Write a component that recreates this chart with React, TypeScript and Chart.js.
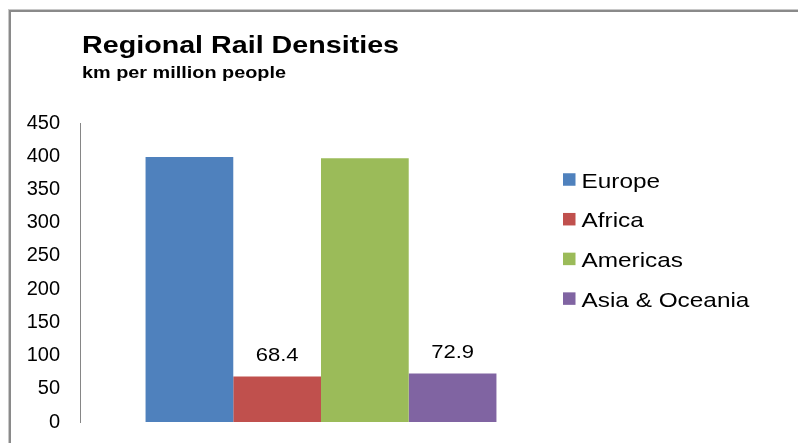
import { useEffect, useRef } from "react";
import { Chart, registerables } from "chart.js";

Chart.register(...registerables);

// ---- data ----
const categories = [""];
const seriesNames = ["Europe", "Africa", "Americas", "Asia & Oceania"];
const seriesValues = [399, 68.4, 397, 72.9];
const seriesColors = ["#4F81BD", "#C0504D", "#9BBB59", "#8064A2"];
const showValueLabel = [false, true, false, true];
const yMin = 0;
const yMax = 450;
const yStep = 50;
const titleText = "Regional Rail Densities";
const subtitleText = "km per million people";

const FONT = "'Liberation Sans', Arial, Helvetica, sans-serif";

function drawText(
  ctx: CanvasRenderingContext2D,
  text: string,
  x: number,
  y: number,
  font: string,
  sx: number,
  align: CanvasTextAlign = "left"
) {
  ctx.save();
  ctx.font = font;
  ctx.fillStyle = "#000000";
  ctx.textAlign = align;
  ctx.textBaseline = "alphabetic";
  ctx.translate(x, y);
  ctx.scale(sx, 1);
  ctx.fillText(text, 0, 0);
  ctx.restore();
}

const decorPlugin = {
  id: "decor",
  beforeDraw(chart: any) {
    const ctx: CanvasRenderingContext2D = chart.ctx;
    const w = chart.width;
    const h = chart.height;
    ctx.save();
    ctx.fillStyle = "#ffffff";
    ctx.fillRect(0, 0, w, h);
    // outer frame (top + left edges visible)
    ctx.fillStyle = "#c8c8c8";
    ctx.fillRect(8, 9, w - 8, 1);
    ctx.fillRect(8, 9, 1, h - 9);
    ctx.fillStyle = "#8a8a8a";
    ctx.fillRect(9, 10, w - 9, 2);
    ctx.fillRect(9, 10, 2, h - 10);
    ctx.restore();
  },
  afterDraw(chart: any) {
    const ctx: CanvasRenderingContext2D = chart.ctx;
    // title + subtitle
    drawText(ctx, titleText, 82, 53, `bold 23.5px ${FONT}`, 1.22);
    drawText(ctx, subtitleText, 82, 78, `bold 16px ${FONT}`, 1.24);

    // legend
    const area = chart.chartArea;
    const boxX = area.right + 1;
    chart.data.datasets.forEach((ds: any, i: number) => {
      const cy = 179.5 + i * 39.7;
      ctx.save();
      ctx.fillStyle = ds.backgroundColor;
      ctx.fillRect(boxX, cy - 6.25, 12.5, 12.5);
      ctx.restore();
      drawText(ctx, ds.label, boxX + 18.5, cy + 8, `21px ${FONT}`, 1.16);
    });

    // value labels
    chart.data.datasets.forEach((ds: any, i: number) => {
      if (!showValueLabel[i]) return;
      const meta = chart.getDatasetMeta(i);
      const el = meta.data[0];
      if (!el) return;
      drawText(ctx, String(ds.data[0]), el.x, el.y - 16, `18.5px ${FONT}`, 1.19, "center");
    });

    // keep the right edge clean
    ctx.save();
    ctx.fillStyle = "#ffffff";
    ctx.fillRect(chart.width - 3, 12, 3, chart.height - 12);
    ctx.restore();
  },
};

export default function App() {
  const canvasRef = useRef<HTMLCanvasElement | null>(null);

  useEffect(() => {
    document.documentElement.style.overflow = "hidden";
    document.body.style.margin = "0";
    document.body.style.overflow = "hidden";
    const canvas = canvasRef.current;
    if (!canvas) return;
    const chart = new Chart(canvas, {
      type: "bar",
      data: {
        labels: categories,
        datasets: seriesNames.map((name, i) => ({
          label: name,
          data: [seriesValues[i]],
          backgroundColor: seriesColors[i],
          borderWidth: 0,
          categoryPercentage: 0.728,
          barPercentage: 1,
        })),
      },
      options: {
        responsive: false,
        animation: false,
        layout: { padding: { left: 8, top: 123, right: 236, bottom: 21 } },
        plugins: {
          legend: { display: false },
          title: { display: false },
          tooltip: { enabled: false },
        },
        scales: {
          x: { display: false },
          y: {
            min: yMin,
            max: yMax,
            ticks: {
              stepSize: yStep,
              padding: 0,
              color: "#000000",
              font: { family: FONT, size: 20 },
            },
            grid: { display: false, drawTicks: true, tickLength: 20 },
            border: { display: true, color: "#868686", width: 1 },
            afterFit: (scale: any) => {
              scale.width = 72;
            },
          },
        },
      },
      plugins: [decorPlugin],
    });
    return () => chart.destroy();
  }, []);

  return (
    <div style={{ position: "fixed", left: 0, top: 0, width: 798, height: 443, overflow: "hidden", background: "#ffffff" }}>
      <canvas ref={canvasRef} width={798} height={443} style={{ display: "block", width: 798, height: 443 }} />
    </div>
  );
}
